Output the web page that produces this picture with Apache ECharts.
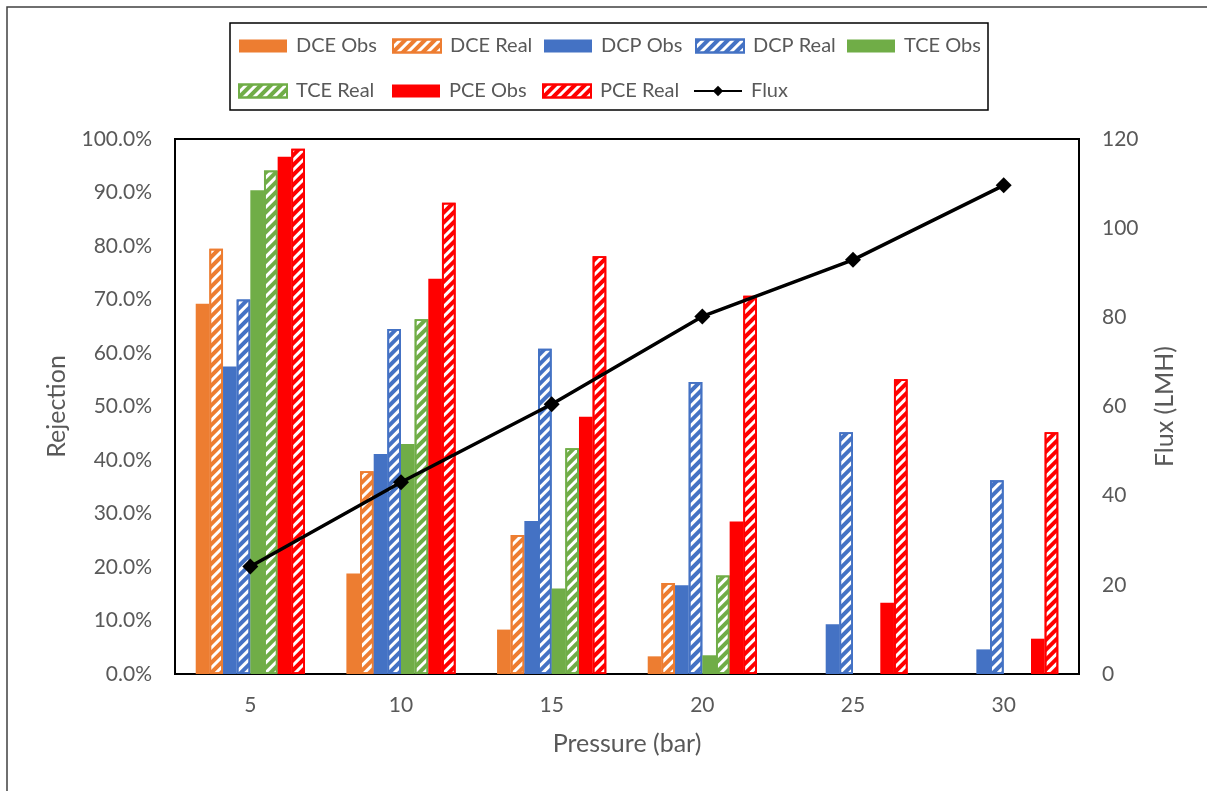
<!DOCTYPE html>
<html>
<head>
<meta charset="utf-8">
<script src="https://cdn.jsdelivr.net/npm/echarts@6/dist/echarts.min.js"></script>
<style>html,body{margin:0;padding:0;background:#fff}#c{width:1207px;height:791px}</style>
</head>
<body>
<div id="c"></div>
<script>
const categories = ['5', '10', '15', '20', '25', '30'];
const dceObs  = [69.2, 18.8, 8.3, 3.3, null, null];
const dceReal = [79.5, 37.9, 26.0, 17.0, null, null];
const dcpObs  = [57.5, 41.1, 28.6, 16.6, 9.3, 4.6];
const dcpReal = [70.0, 64.5, 60.8, 54.6, 45.2, 36.2];
const tceObs  = [90.4, 43.0, 16.0, 3.5, null, null];
const tceReal = [94.1, 66.3, 42.2, 18.4, null, null];
const pceObs  = [96.7, 73.9, 48.1, 28.5, 13.3, 6.6];
const pceReal = [98.2, 88.1, 78.1, 70.7, 55.1, 45.2];
const flux    = [24.1, 43.0, 60.5, 80.2, 92.9, 109.6];
const leftTicks = {min: 0, max: 100, interval: 10};
const rightTicks = {min: 0, max: 120, interval: 20};
const legendRows = [
  ['DCE Obs', 'DCE Real', 'DCP Obs', 'DCP Real', 'TCE Obs'],
  ['TCE Real', 'PCE Obs', 'PCE Real', 'Flux']
];

const ORANGE = '#ED7D31', BLUE = '#4472C4', GREEN = '#70AD47', RED = '#FF0000';
const FONT = 'Lato';
const TXT = '#595959';

function solid(name, color, data) {
  return { name, type: 'bar', data, barGap: '0%', barCategoryGap: '27.5%',
    itemStyle: { color } };
}
function hatched(name, color, data) {
  return { name, type: 'bar', data, barGap: '0%', barCategoryGap: '27.5%',
    itemStyle: { color: '#ffffff', borderColor: color, borderWidth: 1.8,
      decal: { symbol: 'rect', symbolSize: 1, color: color,
        dashArrayX: [1, 0], dashArrayY: [3.4, 2.6], rotation: -Math.PI / 4 } } };
}

// legend layout: one component per item so columns line up like the original
const rowTops = [36, 81];
const colLefts = [[239, 392, 544, 695, 847], [238, 392, 542, 693]];
const legends = [];
legendRows.forEach((row, r) => row.forEach((name, c) => {
  legends.push({
    left: colLefts[r][c], top: rowTops[r], padding: 0,
    itemWidth: 48, itemHeight: 13, itemGap: 0,
    data: [name === 'Flux' ? { name } : { name, icon: 'rect' }],
    formatter: n => '{t|' + n + '}',
    textStyle: { fontFamily: FONT, fontSize: 20, color: TXT,
      rich: { t: { fontFamily: FONT, fontSize: 20, color: TXT, padding: [0, 0, 0, 4] } } }
  });
}));

const chart = echarts.init(document.getElementById('c'), null, { renderer: 'canvas' });
chart.setOption({
  animation: false,
  backgroundColor: '#ffffff',
  graphic: [
    { type: 'rect', shape: { x: 7, y: 7, width: 1300, height: 900 },
      style: { fill: 'none', stroke: '#404040', lineWidth: 1.5 }, z: -1 },
    { type: 'rect', shape: { x: 230, y: 23, width: 758, height: 87 },
      style: { fill: 'none', stroke: '#000', lineWidth: 1.5 }, z: -1 }
  ],
  legend: legends,
  grid: { left: 175, right: 128, top: 139, bottom: 117, show: true,
    borderColor: '#000', borderWidth: 2, containLabel: false },
  xAxis: {
    type: 'category', data: categories,
    name: 'Pressure (bar)', nameLocation: 'middle', nameGap: 57,
    nameTextStyle: { fontFamily: FONT, fontSize: 25, color: TXT },
    axisLine: { lineStyle: { color: '#000', width: 2 } },
    axisTick: { show: false },
    axisLabel: { fontFamily: FONT, fontSize: 21, color: TXT, margin: 21 }
  },
  yAxis: [
    { type: 'value', min: leftTicks.min, max: leftTicks.max, interval: leftTicks.interval,
      name: 'Rejection', nameLocation: 'middle', nameGap: 106,
      nameTextStyle: { fontFamily: FONT, fontSize: 25, color: TXT },
      axisLine: { show: true, lineStyle: { color: '#000', width: 2 } },
      axisTick: { show: false }, splitLine: { show: false },
      axisLabel: { fontFamily: FONT, fontSize: 21, color: TXT, margin: 23,
        formatter: v => v.toFixed(1) + '%' } },
    { type: 'value', min: rightTicks.min, max: rightTicks.max, interval: rightTicks.interval,
      name: 'Flux (LMH)', nameLocation: 'middle', nameGap: 73,
      nameTextStyle: { fontFamily: FONT, fontSize: 25, color: TXT },
      axisLine: { show: true, lineStyle: { color: '#000', width: 2 } },
      axisTick: { show: false }, splitLine: { show: false },
      axisLabel: { fontFamily: FONT, fontSize: 21, color: TXT, margin: 23 } }
  ],
  series: [
    solid('DCE Obs', ORANGE, dceObs),
    hatched('DCE Real', ORANGE, dceReal),
    solid('DCP Obs', BLUE, dcpObs),
    hatched('DCP Real', BLUE, dcpReal),
    solid('TCE Obs', GREEN, tceObs),
    hatched('TCE Real', GREEN, tceReal),
    solid('PCE Obs', RED, pceObs),
    hatched('PCE Real', RED, pceReal),
    { name: 'Flux', type: 'line', yAxisIndex: 1, data: flux, z: 10,
      symbol: 'diamond', symbolSize: 16,
      lineStyle: { color: '#000', width: 3.5 }, itemStyle: { color: '#000' } }
  ]
});
</script>
</body>
</html>
